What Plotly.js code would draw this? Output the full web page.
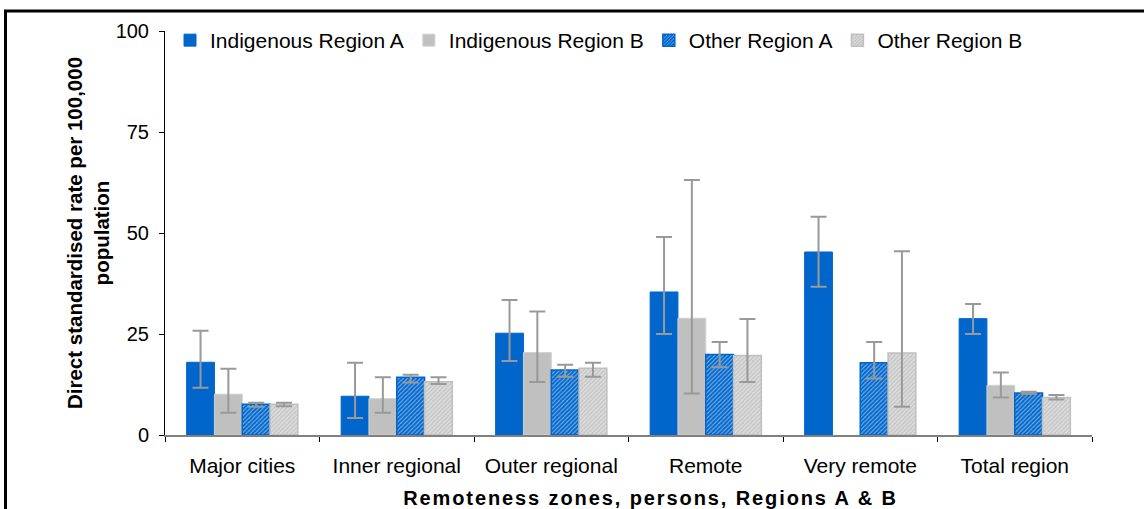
<!DOCTYPE html>
<html>
<head>
<meta charset="utf-8">
<script src="https://cdn.plot.ly/plotly-3.0.1.min.js"></script>
<style>
  html, body { margin: 0; padding: 0; background: #fff; }
  #chart { width: 1144px; height: 509px; }
  .xtitle { letter-spacing: 1.9px; transform: translate(22px, 3px); }
</style>
</head>
<body>
<div id="chart"></div>
<script>
const categories = ['Major cities', 'Inner regional', 'Outer regional', 'Remote', 'Very remote', 'Total region'];

const indigenousA    = [18.0, 9.6, 25.2, 35.4, 45.3, 28.8];
const indigenousA_hi = [25.8, 17.9, 33.4, 49.0, 54.0, 32.4];
const indigenousA_lo = [11.7, 4.2, 18.3, 25.0, 36.7, 25.0];

const indigenousB    = [10.1, 9.0, 20.4, 28.9, null, 12.3];
const indigenousB_hi = [16.4, 14.3, 30.6, 63.1, null, 15.5];
const indigenousB_lo = [5.5, 5.5, 13.1, 10.3, null, 9.3];

const otherA    = [7.6, 14.3, 16.1, 19.9, 17.9, 10.4];
const otherA_hi = [8.0, 14.9, 17.4, 23.0, 23.0, 10.7];
const otherA_lo = [7.0, 13.0, 14.4, 16.8, 14.0, 10.2];

const otherB    = [7.6, 13.2, 16.5, 19.7, 20.3, 9.3];
const otherB_hi = [8.0, 14.3, 17.9, 28.7, 45.5, 9.9];
const otherB_lo = [7.1, 12.6, 14.4, 13.1, 7.0, 8.8];

const seriesNames = ['Indigenous Region A', 'Indigenous Region B', 'Other Region A', 'Other Region B'];

function upper(v, hi) { return v.map((x, i) => (x == null || hi[i] == null) ? null : +(hi[i] - x).toFixed(2)); }
function lower(v, lo) { return v.map((x, i) => (x == null || lo[i] == null) ? null : +(x - lo[i]).toFixed(2)); }

const errStyle = { color: '#999999', thickness: 2, width: 8 };

function err(v, hi, lo) {
  return Object.assign({ type: 'data', symmetric: false, array: upper(v, hi), arrayminus: lower(v, lo), visible: true }, errStyle);
}

const traces = [
  {
    type: 'bar', name: seriesNames[0], x: categories, y: indigenousA,
    marker: { color: '#0066CC', line: { color: '#0066CC', width: 1 } },
    error_y: err(indigenousA, indigenousA_hi, indigenousA_lo)
  },
  {
    type: 'bar', name: seriesNames[1], x: categories, y: indigenousB,
    marker: { color: '#C0C0C0', line: { color: '#D0D0D0', width: 1 } },
    error_y: err(indigenousB, indigenousB_hi, indigenousB_lo)
  },
  {
    type: 'bar', name: seriesNames[2], x: categories, y: otherA,
    marker: { color: '#0066CC', line: { color: '#0066CC', width: 1.5 },
      pattern: { shape: '/', fillmode: 'overlay', fgcolor: '#ffffff', size: 3, solidity: 0.35 } },
    error_y: err(otherA, otherA_hi, otherA_lo)
  },
  {
    type: 'bar', name: seriesNames[3], x: categories, y: otherB,
    marker: { color: '#C8C8C8', line: { color: '#C0C0C0', width: 1.5 },
      pattern: { shape: '/', fillmode: 'overlay', fgcolor: '#ffffff', size: 3, solidity: 0.35 } },
    error_y: err(otherB, otherB_hi, otherB_lo)
  }
];

// pixel frame helpers for the outer border (plot area: x 165..1092, y 31..435)
const L = 165, R = 52, T = 31, B = 74, W = 1144, H = 509;
const pw = W - L - R, ph = H - T - B;
const px = v => (v - L) / pw;
const py = v => (H - B - v) / ph;

const layout = {
  width: W, height: H,
  margin: { l: L, r: R, t: T, b: B, pad: 0 },
  paper_bgcolor: '#ffffff', plot_bgcolor: '#ffffff',
  font: { family: '"Liberation Sans", Arial, sans-serif', color: '#000000', size: 20 },
  barmode: 'group', bargap: 0.28, bargroupgap: 0,
  showlegend: true,
  legend: {
    orientation: 'h', x: px(170), xanchor: 'left', y: py(20), yanchor: 'top',
    font: { size: 21, family: '"Liberation Sans", Arial, sans-serif' },
    bgcolor: 'rgba(0,0,0,0)', traceorder: 'normal'
  },
  xaxis: {
    type: 'category', tickson: 'boundaries', ticks: 'outside', ticklen: 5, tickcolor: '#000000',
    showline: true, linecolor: '#808080', linewidth: 1.5, showgrid: false, zeroline: false,
    tickfont: { size: 21 }, ticklabelstandoff: 11,
    title: { text: 'Remoteness zones, persons, Regions A & B', font: { size: 20, weight: 'bold' }, standoff: 13 }
  },
  yaxis: {
    range: [0, 100], tickvals: [0, 25, 50, 75, 100], ticks: 'outside', ticklen: 5, tickcolor: '#000000',
    showline: true, linecolor: '#000000', linewidth: 1, showgrid: false, zeroline: false,
    tickfont: { size: 20 }, ticklabelstandoff: 6,
    title: { text: 'Direct standardised rate per 100,000<br>population', font: { size: 20.5, weight: 'bold' }, standoff: 0 }
  },
  shapes: [
    { type: 'line', xref: 'paper', yref: 'paper', x0: px(4), x1: px(1144), y0: py(11), y1: py(11), line: { color: '#000000', width: 3 } },
    { type: 'line', xref: 'paper', yref: 'paper', x0: px(5.5), x1: px(5.5), y0: py(10), y1: py(509), line: { color: '#000000', width: 3 } }
  ]
};

Plotly.newPlot('chart', traces, layout, { displayModeBar: false, staticPlot: true });
</script>
</body>
</html>
